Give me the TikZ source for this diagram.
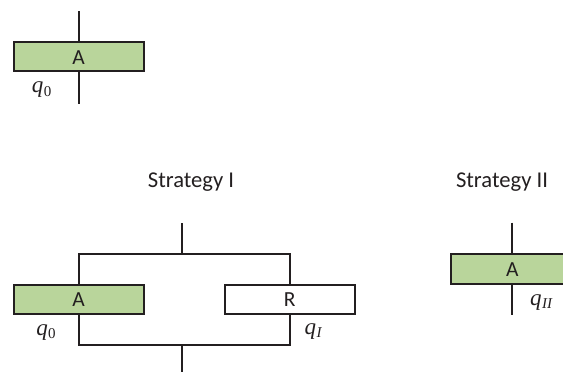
\documentclass[tikz,border=0pt]{standalone}
\usepackage{fontspec}
\setmainfont{Carlito}
\newfontfamily\qfont{Liberation Serif}
\definecolor{boxgreen}{HTML}{B9D59B}
\definecolor{ink}{HTML}{231F20}
\newcommand{\qsym}[1]{{\qfont\itshape\fontsize{23}{24}\selectfont q\kern0.5pt\raisebox{-3.5pt}{\fontsize{15}{16}\selectfont #1}}}
\tikzset{
  unitbox/.style={draw=ink,line width=2pt,minimum width=130pt,minimum height=29.5pt,inner sep=0pt,text=ink,text height=15pt,text depth=0pt,font=\fontsize{21.5}{24}\selectfont},
  active/.style={unitbox,fill=boxgreen},
  spare/.style={unitbox,fill=white},
  wire/.style={draw=ink,line width=2pt,line join=miter},
  caption/.style={text=ink,inner sep=0pt,anchor=base,font=\fontsize{22.6}{26}\selectfont},
  qlabel/.style={text=ink,inner sep=0pt}
}
\begin{document}
\begin{tikzpicture}[x=1pt,y=-1pt]
\clip (0,0) rectangle (563,372);
% top unit
\node[active] (a0) at (78.7,56.7) {A};
\coordinate (a0in) at (78.7,11);
\coordinate (a0out) at (78.7,103.5);
\draw[wire] (a0in) -- (a0.north);
\draw[wire] (a0.south) -- (a0out);
\node[qlabel] (q0a) at (41.5,90) {\qsym{\upshape 0}};
% captions
\node[caption] (s1) at (191,187) {Strategy I};
\node[caption] (s2) at (502,187) {Strategy II};
% strategy I
\node[active] (a1) at (78.7,299.4) {A};
\node[spare] (r1) at (289.7,299.4) {R};
\coordinate (topin) at (181.5,223);
\coordinate (topj) at (181.5,253.5);
\coordinate (botj) at (181.5,344.5);
\coordinate (botout) at (181.5,372);
\draw[wire] (a1.north) |- (topj) -| (r1.north);
\draw[wire] (a1.south) |- (botj) -| (r1.south);
\draw[wire] (topin) -- (topj);
\draw[wire] (botj) -- (botout);
\node[qlabel] (q0b) at (46,332.5) {\qsym{\upshape 0}};
\node[qlabel] (qi) at (313,331.5) {\qsym{I}};
% strategy II
\node[active,minimum width=122pt] (a2) at (512.3,269.2) {A};
\coordinate (a2in) at (512.3,222.5);
\coordinate (a2out) at (512.3,315);
\draw[wire] (a2in) -- (a2.north);
\draw[wire] (a2.south) -- (a2out);
\node[qlabel] (qii) at (541,302.5) {\qsym{II}};
\end{tikzpicture}
\end{document}
